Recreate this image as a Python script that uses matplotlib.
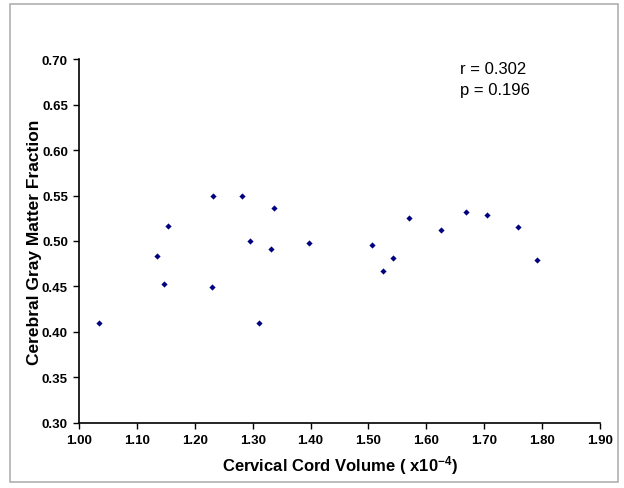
import matplotlib
matplotlib.use("Agg")
import matplotlib.pyplot as plt
from matplotlib.patches import Rectangle

plt.rcParams['font.family'] = ['Liberation Sans', 'DejaVu Sans']
plt.rcParams['mathtext.fontset'] = 'custom'
plt.rcParams['mathtext.rm'] = 'Liberation Sans'
plt.rcParams['mathtext.bf'] = 'Liberation Sans:bold'
plt.rcParams['mathtext.default'] = 'regular'

cord_volume = [1.035, 1.134, 1.146, 1.154, 1.232, 1.229, 1.281, 1.296, 1.311, 1.331,
               1.337, 1.398, 1.507, 1.525, 1.543, 1.570, 1.625, 1.669, 1.705, 1.759, 1.792]
gm_fraction = [0.410, 0.483, 0.453, 0.516, 0.549, 0.449, 0.549, 0.500, 0.410, 0.491,
               0.536, 0.498, 0.496, 0.467, 0.481, 0.525, 0.512, 0.532, 0.529, 0.515, 0.479]

x_ticks = [1.00, 1.10, 1.20, 1.30, 1.40, 1.50, 1.60, 1.70, 1.80, 1.90]
y_ticks = [0.30, 0.35, 0.40, 0.45, 0.50, 0.55, 0.60, 0.65, 0.70]

fig = plt.figure(figsize=(6.24, 4.89), dpi=100)
fig.patches.append(Rectangle((10/624, 1-483/489), 608/624, 478/489,
                             transform=fig.transFigure, fill=False,
                             edgecolor='#b0b0b0', linewidth=1.2))

ax = fig.add_axes([79/624, 1-423.7/489, 521/624, 363.4/489])
ax.scatter(cord_volume, gm_fraction, marker='D', s=10, color='#000080', linewidths=0)

ax.set_xlim(1.00, 1.90)
ax.set_ylim(0.30, 0.70)
ax.set_xticks(x_ticks)
ax.set_yticks(y_ticks)
ax.set_xticklabels([f"{v:.2f}" for v in x_ticks], fontweight='bold', fontsize=9.5)
ax.set_yticklabels([f"{v:.2f}" for v in y_ticks], fontweight='bold', fontsize=9.5)
ax.tick_params(direction='out', length=4, width=1, colors='black', pad=4)

for s in ['top', 'right']:
    ax.spines[s].set_visible(False)
for s in ['left', 'bottom']:
    ax.spines[s].set_linewidth(1.2)

ax.set_xlabel("Cervical Cord Volume ( x10$^{-4}$)", fontweight='bold', fontsize=12, labelpad=5)
ax.set_ylabel("Cerebral Gray Matter Fraction", fontweight='bold', fontsize=12.5, labelpad=0)

ax.text(0.732, 0.995, "r = 0.302\np = 0.196", transform=ax.transAxes,
        fontsize=12, va='top', ha='left', linespacing=1.45)

fig.savefig("out.png", dpi=100)
